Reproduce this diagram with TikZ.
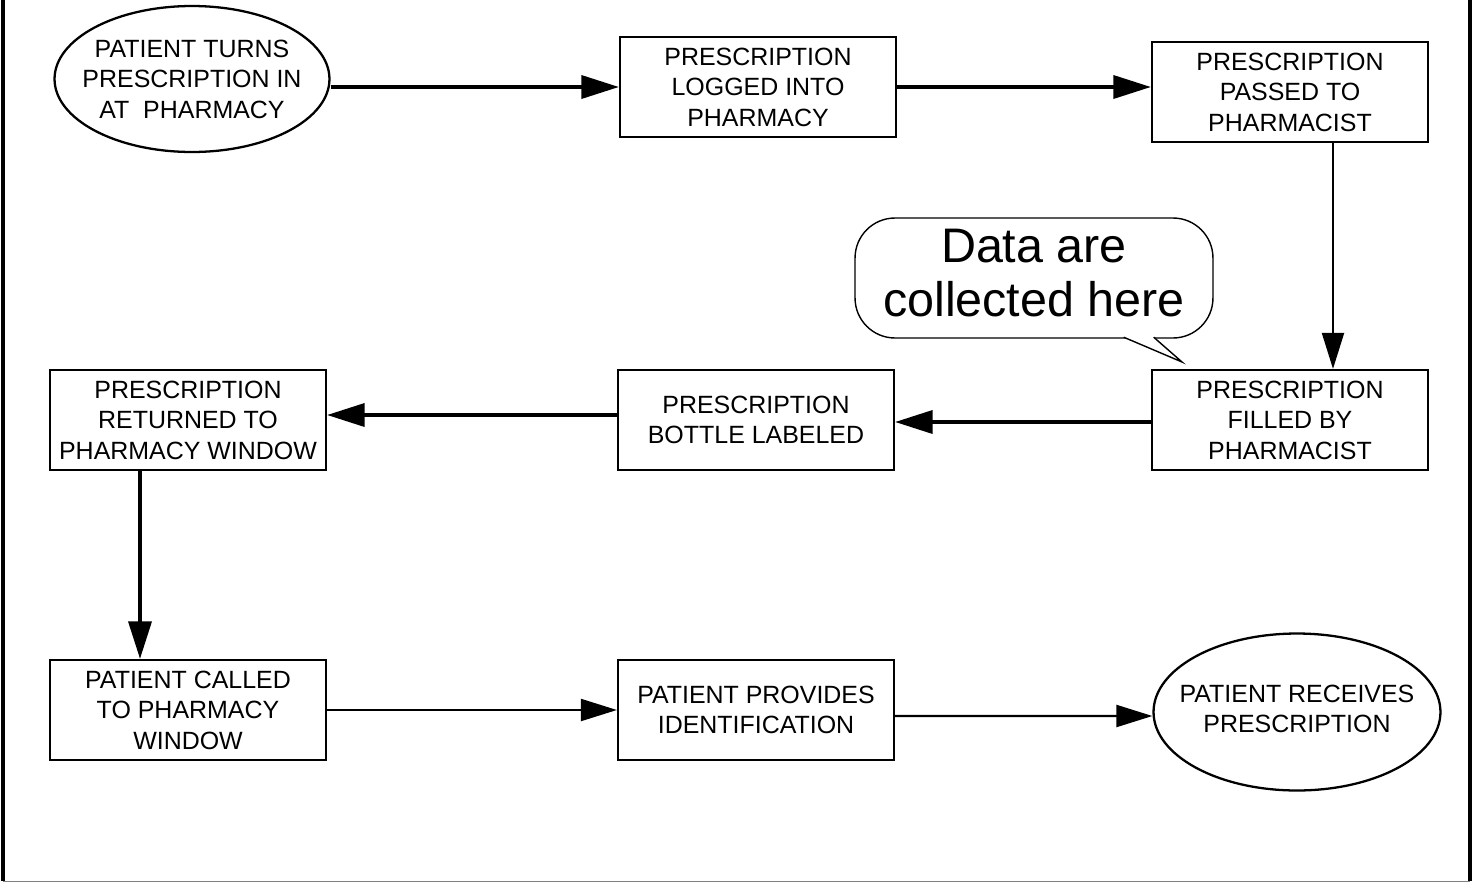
\documentclass[tikz,border=0pt]{standalone}
\usepackage{fontspec}
\setmainfont{Liberation Sans}
\usetikzlibrary{shapes.geometric, arrows.meta, positioning, calc}

\begin{document}
\begin{tikzpicture}[x=0.02cm, y=-0.02cm,
				flow/.style={-{Triangle[length=0.75cm, width=0.46cm]}, line width=2pt},
				thinflow/.style={-{Triangle[length=0.72cm, width=0.44cm]}, line width=1.2pt}
			]
			\tikzstyle{Node} = [ %describes the basic look of the shapes
				align=center,
				draw=black,
				line width=1.3pt,
				inner sep=1pt,
				font=\fontsize{14.2}{17.4}\selectfont
			]
			\tikzstyle{BoxNode} = [
				rectangle,
				minimum width=5.52cm,
				minimum height=2cm,
				Node
			]
			\tikzstyle{EllNode} = [ %text goes in a centre label so it does not grow the ellipse
				ellipse,
				inner sep=0pt,
				Node
			]
			\tikzstyle{EllText} = [
				align=center,
				inner sep=0pt,
				font=\fontsize{14.2}{17.4}\selectfont
			]
			\useasboundingbox (0,0) rectangle (1475,883);

			% frame
			\draw[line width=2.3pt] (3,0) -- (3,881);
			\draw[line width=2.3pt] (1470,0) -- (1470,881);
			\draw[gray, line width=1pt] (3,881.5) -- (1470,881.5);

			% first row
			\node (turnin) [EllNode, minimum width=5.5cm, minimum height=2.92cm,
				label={[EllText]center:PATIENT TURNS\\PRESCRIPTION IN\\AT~~PHARMACY}] at (192,79) {};
			\node (logged) [BoxNode] at (758,87) {PRESCRIPTION\\LOGGED INTO\\PHARMACY};
			\node (passed) [BoxNode] at (1290,92) {PRESCRIPTION\\PASSED TO\\PHARMACIST};

			% second row
			\node (filled) [BoxNode] at (1290,420) {PRESCRIPTION\\FILLED BY\\PHARMACIST};
			\node (bottle) [BoxNode] at (756,420) {PRESCRIPTION\\BOTTLE LABELED};
			\node (returned) [BoxNode] at (188,420) {PRESCRIPTION\\RETURNED TO\\PHARMACY WINDOW};

			% third row
			\node (called) [BoxNode] at (188,710) {PATIENT CALLED\\TO PHARMACY\\WINDOW};
			\node (provides) [BoxNode] at (756,710) {PATIENT PROVIDES\\IDENTIFICATION};
			\node (receives) [EllNode, minimum width=5.74cm, minimum height=3.14cm,
				label={[EllText, yshift=0.06cm]center:PATIENT RECEIVES\\PRESCRIPTION}] at (1297,712) {};

			% speech bubble
			\node (bubble) [draw, line width=0.8pt, rounded corners=0.8cm, minimum width=7.16cm, minimum height=2.4cm,
				label={[EllText, yshift=0.1cm, font=\fontsize{27.6}{30.6}\selectfont]center:Data are\\collected here}] at (1034,278) {};
			\coordinate (tip) at (1182,362);
			\coordinate (ta) at ($(bubble.south east)+(-1.8cm,0.03cm)$);
			\coordinate (tb) at ($(bubble.south east)+(-1.2cm,0.03cm)$);
			\fill[white] (ta) -- (tip) -- (tb) -- cycle;
			\draw[line width=0.8pt] (ta) -- (tip) -- (tb);

			% connectors
			\draw[flow] (turnin.east |- logged) -- (logged.west);
			\draw[flow] (logged.east) -- (logged.east -| passed.west);
			\draw[thinflow] ([xshift=0.86cm]passed.south) -- ([xshift=0.86cm]filled.north);
			\draw[flow] ([yshift=-0.04cm]filled.west) -- ([yshift=-0.04cm]bottle.east);
			\draw[flow] ([yshift=0.1cm]bottle.west) -- ([yshift=0.1cm]returned.east);
			\draw[flow] ([xshift=-0.96cm]returned.south) -- ([xshift=-0.96cm]called.north);
			\draw[thinflow] (called) -- (provides);
			\draw[thinflow] ([yshift=-0.12cm]provides.east) -- ([yshift=-0.08cm]receives.west);
		\end{tikzpicture}
\end{document}
